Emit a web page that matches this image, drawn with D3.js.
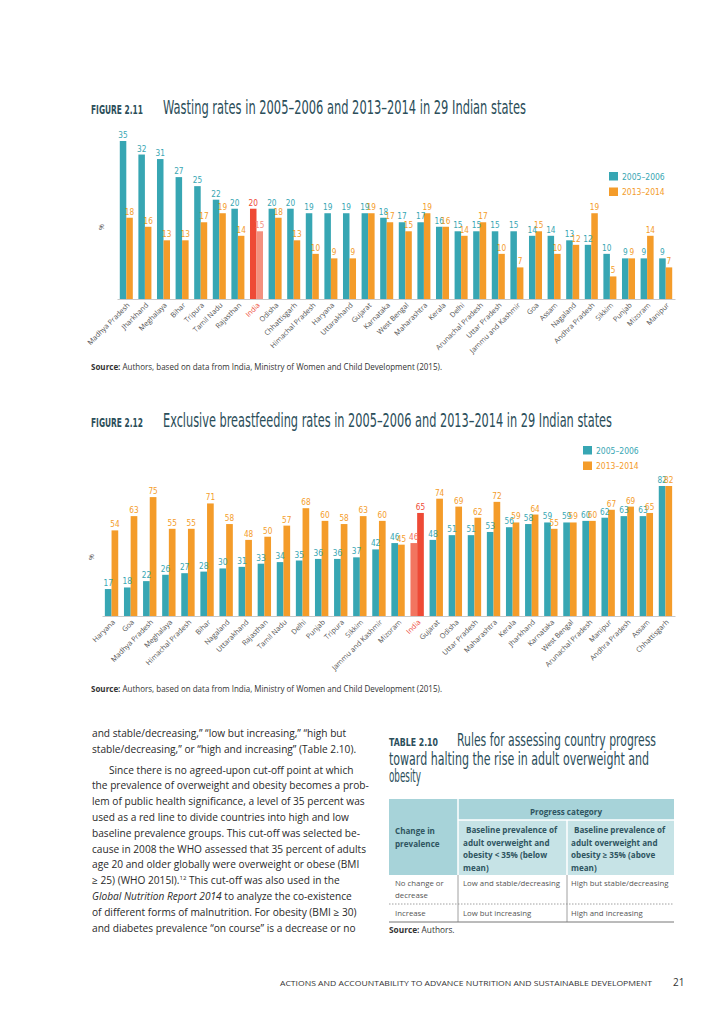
<!DOCTYPE html>
<html>
<head>
<meta charset="utf-8">
<script src="https://cdn.jsdelivr.net/npm/d3@7"></script>
<style>
  body { margin: 0; background: #fff; }
  svg { display: block; }
</style>
</head>
<body>
<svg id="page" width="724" height="1024"></svg>
<script>
// ---- data ----
const wastingStates = ["Madhya Pradesh","Jharkhand","Meghalaya","Bihar","Tripura","Tamil Nadu","Rajasthan","India","Odisha","Chhattisgarh","Himachal Pradesh","Haryana","Uttarakhand","Gujarat","Karnataka","West Bengal","Maharashtra","Kerala","Delhi","Arunachal Pradesh","Uttar Pradesh","Jammu and Kashmir","Goa","Assam","Nagaland","Andhra Pradesh","Sikkim","Punjab","Mizoram","Manipur"];
const wasting2005 = [35,32,31,27,25,22,20,20,20,20,19,19,19,19,18,17,17,16,15,15,15,15,14,14,13,12,10,9,9,9];
const wasting2013 = [18,16,13,13,17,19,14,15,18,13,10,9,9,19,17,15,19,16,14,17,10,7,15,10,12,19,5,9,14,7];

const bfStates = ["Haryana","Goa","Madhya Pradesh","Meghalaya","Himachal Pradesh","Bihar","Nagaland","Uttarakhand","Rajasthan","Tamil Nadu","Delhi","Punjab","Tripura","Sikkim","Jammu and Kashmir","Mizoram","India","Gujarat","Odisha","Uttar Pradesh","Maharashtra","Kerala","Jharkhand","Karnataka","West Bengal","Arunachal Pradesh","Manipur","Andhra Pradesh","Assam","Chhattisgarh"];
const bf2005 = [17,18,22,26,27,28,30,31,33,34,35,36,36,37,42,46,46,48,51,51,53,56,58,59,59,60,62,63,63,82];
const bf2013 = [54,63,75,55,55,71,58,48,50,57,68,60,58,63,60,45,65,74,69,62,72,59,64,55,59,60,67,69,65,82];

const seriesNames = ["2005–2006", "2013–2014"];

const teal = "#37a6b3", orange = "#f49c2a", red = "#ee4a36", salmon = "#f3907e";
const ink = "#2b4e5a";
const narrow = "'Liberation Sans Narrow','DejaVu Sans Condensed',sans-serif";
const sans = "'Open Sans','Noto Sans',sans-serif";

const svg = d3.select("#page");
svg.append("rect").attr("width", 724).attr("height", 1024).attr("fill", "#fff");

function figureTitle(label, title, y, titleLen) {
  svg.append("text").attr("x", 91).attr("y", y)
    .attr("font-family", narrow).attr("font-weight", "bold").attr("font-size", 11.5)
    .attr("fill", ink).attr("textLength", 52).attr("lengthAdjust", "spacingAndGlyphs")
    .text(label);
  svg.append("text").attr("x", 163).attr("y", y)
    .attr("font-family", narrow).attr("font-size", 19)
    .attr("fill", ink).attr("textLength", titleLen).attr("lengthAdjust", "spacingAndGlyphs")
    .text(title);
}

function sourceLine(y) {
  const t = svg.append("text").attr("x", 91).attr("y", y)
    .attr("font-family", sans).attr("font-size", 8.5).attr("fill", "#333")
    .attr("textLength", 351).attr("lengthAdjust", "spacingAndGlyphs");
  t.append("tspan").attr("font-weight", "bold").text("Source:");
  t.append("tspan").text(" Authors, based on data from India, Ministry of Women and Child Development (2015).");
}

function barChart(o) {
  const rows = o.states.map((s, i) => ({ state: s, vals: [o.a[i], o.b[i]] }));
  const x0 = d3.scaleBand().domain(o.states).range(o.xRange).paddingInner(0.3).paddingOuter(0.15);
  const x1 = d3.scaleBand().domain([0, 1]).range([0, x0.bandwidth()]);
  const y = d3.scaleLinear().domain([0, o.max]).range([o.base, o.top]);
  const g = svg.append("g");

  const colour = (d, k) => d.state === "India" ? o.india[k] : (k === 0 ? teal : orange);

  const grp = g.selectAll("g.grp").data(rows).enter().append("g")
    .attr("class", "grp").attr("transform", d => `translate(${x0(d.state)},0)`);

  grp.selectAll("rect").data(d => d.vals.map((v, k) => ({ v, k, state: d.state })))
    .enter().append("rect")
    .attr("x", d => x1(d.k)).attr("width", x1.bandwidth())
    .attr("y", d => y(d.v)).attr("height", d => y(0) - y(d.v))
    .attr("fill", d => colour(d, d.k));

  grp.selectAll("text").data(d => d.vals.map((v, k) => ({ v, k, state: d.state })))
    .enter().append("text")
    .attr("x", d => x1(d.k) + x1.bandwidth() / 2).attr("y", d => y(d.v) - 3)
    .attr("text-anchor", "middle").attr("font-family", narrow).attr("font-size", 8.2)
    .attr("fill", d => colour(d, d.k)).text(d => d.v);

  const axis = g.append("g").attr("transform", `translate(0,${o.base})`)
    .call(d3.axisBottom(x0).tickSize(0).tickSizeOuter(0).tickPadding(0));
  axis.select(".domain").attr("stroke", "#c9c9c9");
  axis.selectAll(".tick text")
    .attr("font-family", sans).attr("font-size", 7.2)
    .attr("fill", d => d === "India" ? red : "#555")
    .attr("text-anchor", "end").attr("x", -2).attr("y", 5).attr("dy", "0.35em")
    .attr("transform", "rotate(-45)");

  // "%" axis label
  svg.append("text").attr("transform", `translate(${o.pct[0]},${o.pct[1]}) rotate(-90)`)
    .attr("text-anchor", "middle").attr("font-family", sans).attr("font-size", 7)
    .attr("fill", "#555").text("%");

  // legend
  const lg = svg.append("g").attr("transform", `translate(${o.legend[0]},${o.legend[1]})`);
  seriesNames.forEach((n, k) => {
    lg.append("rect").attr("x", 0).attr("y", k * 15.5).attr("width", 9).attr("height", 8.5)
      .attr("fill", k === 0 ? teal : orange);
    lg.append("text").attr("x", 13).attr("y", k * 15.5 + 7.5)
      .attr("font-family", narrow).attr("font-size", 8.5)
      .attr("fill", k === 0 ? teal : orange).text(n);
  });
}

// ---- Figure 2.11 ----
figureTitle("FIGURE 2.11", "Wasting rates in 2005–2006 and 2013–2014 in 29 Indian states", 114, 363);
barChart({ states: wastingStates, a: wasting2005, b: wasting2013, max: 35,
  xRange: [117, 675], base: 299, top: 141, india: [red, salmon],
  pct: [104, 227], legend: [609, 172] });
sourceLine(370);

// ---- Figure 2.12 ----
figureTitle("FIGURE 2.12", "Exclusive breastfeeding rates in 2005–2006 and 2013–2014 in 29 Indian states", 427, 449);
barChart({ states: bfStates, a: bf2005, b: bf2013, max: 82,
  xRange: [102, 675], base: 616, top: 486, india: ["#f27560", red],
  pct: [94, 557], legend: [583, 446] });
sourceLine(692);

// ---- body text, left column ----
const bodyLines = [
  [["and stable/decreasing,” “low but increasing,” “high but"]],
  [["stable/decreasing,” or “high and increasing” (Table 2.10)."]],
  [["Since there is no agreed-upon cut-off point at which"]],
  [["the prevalence of overweight and obesity becomes a prob-"]],
  [["lem of public health significance, a level of 35 percent was"]],
  [["used as a red line to divide countries into high and low"]],
  [["baseline prevalence groups. This cut-off was selected be-"]],
  [["cause in 2008 the WHO assessed that 35 percent of adults"]],
  [["age 20 and older globally were overweight or obese (BMI"]],
  [["≥ 25) (WHO 2015l)."], ["12", "sup"], [" This cut-off was also used in the", "down"]],
  [["Global Nutrition Report 2014", "it"], [" to analyze the co-existence"]],
  [["of different forms of malnutrition. For obesity (BMI ≥ 30)"]],
  [["and diabetes prevalence “on course” is a decrease or no"]]
];
const body = svg.append("g").attr("font-family", sans).attr("fill", "#2a2a2a");
const bodyText = bodyLines.map((segs, i) => {
  const t = body.append("text")
    .attr("x", i === 2 ? 109 : 92)
    .attr("y", 737 + i * 15.8 + (i >= 2 ? 5 : 0));
  segs.forEach(([s, kind]) => {
    const sp = t.append("tspan").text(s);
    if (kind === "it") sp.attr("font-style", "italic");
    if (kind === "sup") sp.attr("font-size", "0.6em").attr("dy", -4);
    if (kind === "down") sp.attr("dy", 4);
  });
  return t;
});
// size the body font so a full measured line matches the page width
body.attr("font-size", 10);
const w = bodyText[4].node().getComputedTextLength();
body.attr("font-size", 10 * 273 / w);

// ---- Table 2.10 ----
svg.append("text").attr("x", 389).attr("y", 746)
  .attr("font-family", narrow).attr("font-weight", "bold").attr("font-size", 11)
  .attr("fill", ink).attr("textLength", 49).attr("lengthAdjust", "spacingAndGlyphs").text("TABLE 2.10");
[["Rules for assessing country progress", 457, 746, 199],
 ["toward halting the rise in adult overweight and", 389, 765, 260],
 ["obesity", 389, 782, 32]].forEach(([s, x, y, len]) => {
  svg.append("text").attr("x", x).attr("y", y)
    .attr("font-family", narrow).attr("font-size", 17.5).attr("fill", ink)
    .attr("textLength", len).attr("lengthAdjust", "spacingAndGlyphs").text(s);
});

const tb = svg.append("g");
const cols = [389, 458, 567, 674];
const hdrDark = "#a7d3d9", hdrLight = "#c6e3e6";
tb.append("rect").attr("x", cols[0]).attr("y", 799).attr("width", cols[3] - cols[0]).attr("height", 76).attr("fill", hdrDark);
tb.append("rect").attr("x", cols[1]).attr("y", 820).attr("width", cols[3] - cols[1]).attr("height", 55).attr("fill", hdrLight);
tb.append("line").attr("x1", cols[1]).attr("x2", cols[1]).attr("y1", 799).attr("y2", 875).attr("stroke", "#fff").attr("stroke-width", 1.5);
tb.append("line").attr("x1", cols[1]).attr("x2", cols[3]).attr("y1", 820).attr("y2", 820).attr("stroke", "#fff").attr("stroke-width", 1.5);
tb.append("line").attr("x1", cols[2]).attr("x2", cols[2]).attr("y1", 820).attr("y2", 875).attr("stroke", "#fff").attr("stroke-width", 1.5);
tb.append("line").attr("x1", cols[1]).attr("x2", cols[1]).attr("y1", 875).attr("y2", 922).attr("stroke", "#888").attr("stroke-width", 0.8);
tb.append("line").attr("x1", cols[2]).attr("x2", cols[2]).attr("y1", 875).attr("y2", 922).attr("stroke", "#888").attr("stroke-width", 0.8);
tb.append("line").attr("x1", cols[0]).attr("x2", cols[3]).attr("y1", 904).attr("y2", 904).attr("stroke", "#888").attr("stroke-width", 0.8).attr("stroke-dasharray", "1.5,1.5");
tb.append("line").attr("x1", cols[0]).attr("x2", cols[3]).attr("y1", 922).attr("y2", 922).attr("stroke", "#777").attr("stroke-width", 1);

const hdrText = (s, x, y, anchor) => tb.append("text").attr("x", x).attr("y", y)
  .attr("text-anchor", anchor || "start").attr("font-family", sans).attr("font-weight", "bold")
  .attr("font-size", 8.1).attr("fill", "#2f5561").text(s);
hdrText("Progress category", (cols[1] + cols[3]) / 2, 815, "middle");
hdrText("Change in", 395, 834);
hdrText("prevalence", 395, 847);
["Baseline prevalence of", "adult overweight and", "obesity < 35% (below", "mean)"].forEach((s, i) => hdrText(s, i === 0 ? 466 : 463, 833 + i * 12.7));
["Baseline prevalence of", "adult overweight and", "obesity ≥ 35% (above", "mean)"].forEach((s, i) => hdrText(s, i === 0 ? 574 : 571, 833 + i * 12.7));

const cellText = (s, x, y) => tb.append("text").attr("x", x).attr("y", y)
  .attr("font-family", sans).attr("font-size", 7.8).attr("fill", "#555").text(s);
cellText("No change or", 395, 886);
cellText("decrease", 395, 898);
cellText("Low and stable/decreasing", 463, 886);
cellText("High but stable/decreasing", 571, 886);
cellText("Increase", 395, 916);
cellText("Low but increasing", 463, 916);
cellText("High and increasing", 571, 916);

const ts = svg.append("text").attr("x", 389).attr("y", 933)
  .attr("font-family", sans).attr("font-size", 8.3).attr("fill", "#333");
ts.append("tspan").attr("font-weight", "bold").text("Source:");
ts.append("tspan").text(" Authors.");

// ---- footer ----
svg.append("text").attr("x", 280).attr("y", 986)
  .attr("font-family", sans).attr("font-size", 8).attr("fill", "#333")
  .attr("textLength", 372).attr("lengthAdjust", "spacingAndGlyphs")
  .text("ACTIONS AND ACCOUNTABILITY TO ADVANCE NUTRITION AND SUSTAINABLE DEVELOPMENT");
svg.append("text").attr("x", 673).attr("y", 986)
  .attr("font-family", sans).attr("font-size", 10).attr("fill", "#333").text("21");
</script>
</body>
</html>
